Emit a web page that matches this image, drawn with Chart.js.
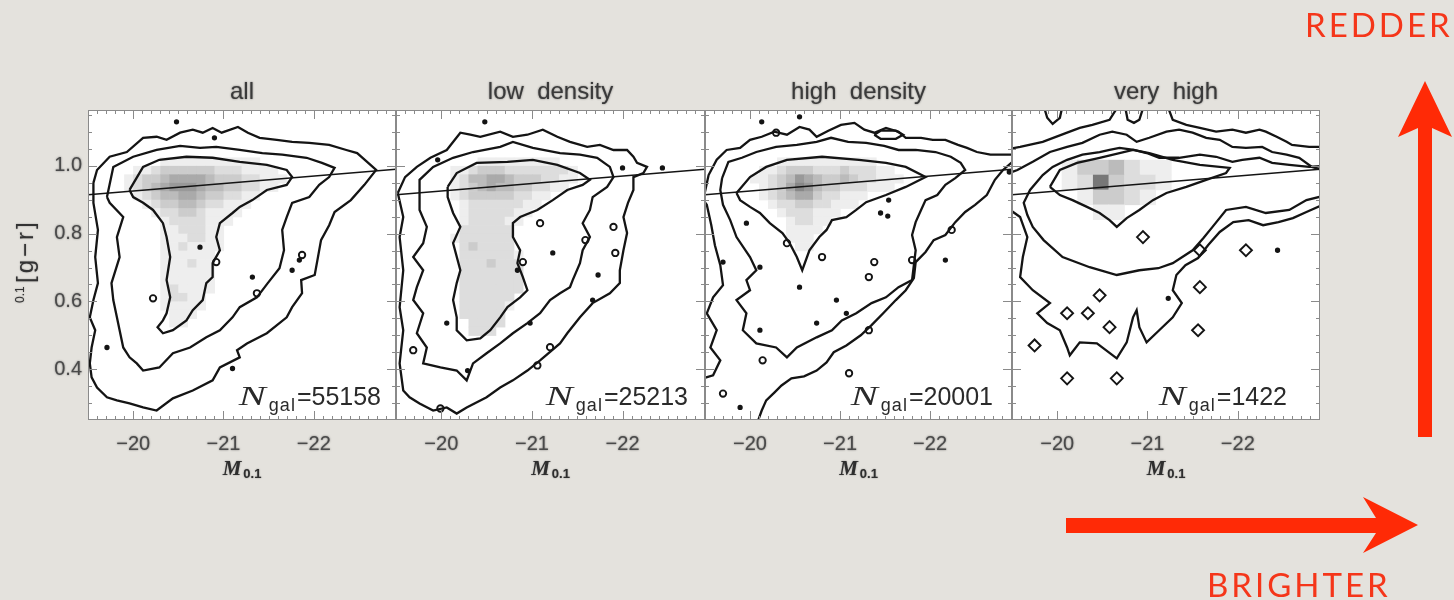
<!DOCTYPE html>
<html lang="en">
<head>
<meta charset="utf-8">
<title>Colour-magnitude diagrams by environment</title>
<script src="https://cdn.jsdelivr.net/npm/chart.js@4.4.1/dist/chart.umd.min.js"></script>
<style>
  html, body { margin: 0; padding: 0; }
  body { width: 1454px; height: 600px; position: relative; overflow: hidden; background: #e4e2dd; }
  canvas { position: absolute; left: 0; top: 0; }
</style>
</head>
<body>
<canvas id="panel0" width="1454" height="600"></canvas>
<canvas id="panel1" width="1454" height="600"></canvas>
<canvas id="panel2" width="1454" height="600"></canvas>
<canvas id="panel3" width="1454" height="600"></canvas>
<script>
// ---- values ----
const panelTitles = ['all', 'low  density', 'high  density', 'very  high'];
const galaxyCounts = ['55158', '25213', '20001', '1422'];
const magTicks = [-20, -21, -22];
const colourTicks = [0.4, 0.6, 0.8, 1.0];
const magRange = [-22.91, -19.5];
const colourRange = [0.25, 1.165];
const redSequence = [[-19.5, 0.915], [-22.91, 0.99]];

// density bins: left edge / top edge of first cell and cell size
const fineBins = { mag: -19.8, dMag: -0.1, colour: 1.025, dColour: 0.025 };
const coarseBins = { mag: -20.05, dMag: -0.173, colour: 1.018, dColour: 0.044 };

// ---- all ----
const allOuter = [[-19.56,0.950],[-19.60,0.988],[-19.74,1.027],[-19.93,1.041],[-20.11,1.083],[-20.26,1.086],[-20.37,1.077],[-20.52,1.098],[-20.66,1.107],[-20.77,1.098],[-20.88,1.112],[-20.98,1.098],[-21.16,1.115],[-21.27,1.098],[-21.40,1.083],[-21.59,1.077],[-21.76,1.071],[-21.95,1.068],[-22.17,1.062],[-22.36,1.047],[-22.48,1.038],[-22.59,1.012],[-22.69,0.988],[-22.56,0.944],[-22.41,0.899],[-22.23,0.864],[-22.17,0.825],[-22.08,0.781],[-22.04,0.722],[-22.01,0.678],[-21.86,0.663],[-21.87,0.624],[-21.76,0.583],[-21.70,0.553],[-21.48,0.506],[-21.26,0.476],[-21.15,0.456],[-21.18,0.435],[-20.96,0.405],[-20.88,0.367],[-20.66,0.337],[-20.44,0.314],[-20.26,0.278],[-20.11,0.287],[-19.96,0.299],[-19.82,0.308],[-19.71,0.317],[-19.60,0.346],[-19.54,0.376],[-19.52,0.417],[-19.54,0.464],[-19.58,0.515],[-19.52,0.553],[-19.56,0.604],[-19.61,0.654],[-19.58,0.731],[-19.61,0.811],[-19.56,0.891]];
const allMiddle = [[-19.71,0.908],[-19.78,0.997],[-20.00,1.027],[-20.26,1.047],[-20.52,1.059],[-20.74,1.053],[-20.92,1.056],[-21.18,1.047],[-21.43,1.038],[-21.65,1.033],[-21.92,1.024],[-22.09,1.009],[-22.23,0.994],[-22.17,0.967],[-22.06,0.944],[-21.95,0.908],[-21.76,0.891],[-21.70,0.849],[-21.65,0.811],[-21.67,0.751],[-21.62,0.698],[-21.49,0.654],[-21.37,0.612],[-21.18,0.583],[-21.10,0.553],[-20.96,0.515],[-20.81,0.494],[-20.63,0.464],[-20.44,0.447],[-20.29,0.405],[-20.11,0.396],[-20.04,0.417],[-19.96,0.435],[-19.89,0.464],[-19.85,0.515],[-19.82,0.553],[-19.78,0.604],[-19.76,0.654],[-19.85,0.731],[-19.82,0.790],[-19.89,0.849],[-19.74,0.891]];
const allInner = [[-19.96,0.929],[-20.11,0.997],[-20.29,1.018],[-20.59,1.027],[-20.88,1.024],[-21.18,1.012],[-21.48,1.003],[-21.70,0.988],[-21.76,0.967],[-21.70,0.944],[-21.48,0.929],[-21.32,0.899],[-21.18,0.879],[-21.10,0.861],[-20.96,0.831],[-20.92,0.790],[-20.96,0.751],[-20.88,0.713],[-20.88,0.672],[-20.81,0.654],[-20.77,0.604],[-20.66,0.574],[-20.59,0.544],[-20.44,0.515],[-20.33,0.506],[-20.27,0.524],[-20.33,0.544],[-20.37,0.565],[-20.41,0.612],[-20.37,0.663],[-20.41,0.731],[-20.37,0.790],[-20.33,0.831],[-20.22,0.870],[-20.11,0.891],[-20.00,0.908]];
const allLoops = [[-20.22,0.609],[-21.37,0.624],[-20.92,0.716],[-21.87,0.737]];
const allDots = [[-20.48,1.130],[-20.90,1.083],[-20.74,0.760],[-21.32,0.672],[-21.76,0.692],[-21.84,0.722],[-21.10,0.402],[-19.71,0.464]];
const allDensity = [
  '00000111111111110000',
  '00112333333222111100',
  '01233455554333221110',
  '01234566654433221100',
  '00123445543322110000',
  '00012334432211100000',
  '00001223321111000000',
  '00000122221110000000',
  '00000112221100000000',
  '00000111221100000000',
  '00000112111100000000',
  '00000111111000000000',
  '00000111211000000000',
  '00000111111000000000',
  '00000111111000000000',
  '00000121111000000000',
  '00000122110000000000',
  '00000111110000000000',
  '00000011100000000000',
  '00000011000000000000'
];

// ---- low density ----
const lowOuter = [[-19.52,0.920],[-19.60,0.967],[-19.73,0.997],[-19.88,1.024],[-20.06,1.047],[-20.21,1.098],[-20.32,1.092],[-20.43,1.086],[-20.65,1.101],[-20.79,1.086],[-20.95,1.092],[-21.12,1.107],[-21.28,1.086],[-21.42,1.071],[-21.61,1.056],[-21.75,1.062],[-21.90,1.047],[-22.05,1.047],[-22.12,1.027],[-22.16,1.009],[-22.27,0.997],[-22.23,0.979],[-22.12,0.967],[-22.12,0.929],[-22.06,0.891],[-22.01,0.849],[-22.05,0.802],[-22.01,0.751],[-21.97,0.692],[-21.97,0.654],[-21.86,0.624],[-21.67,0.595],[-21.53,0.553],[-21.39,0.506],[-21.31,0.476],[-21.09,0.426],[-20.95,0.396],[-20.79,0.367],[-20.65,0.346],[-20.50,0.317],[-20.28,0.287],[-20.17,0.269],[-20.06,0.287],[-19.91,0.278],[-19.76,0.299],[-19.65,0.317],[-19.58,0.337],[-19.54,0.417],[-19.58,0.515],[-19.54,0.583],[-19.58,0.692],[-19.54,0.790],[-19.58,0.849]];
const lowMiddle = [[-19.76,0.920],[-19.76,0.959],[-19.91,0.997],[-20.13,1.024],[-20.35,1.041],[-20.65,1.056],[-20.79,1.071],[-21.01,1.053],[-21.31,1.038],[-21.53,1.033],[-21.72,1.024],[-21.86,0.997],[-21.90,0.967],[-21.83,0.938],[-21.67,0.908],[-21.64,0.870],[-21.56,0.831],[-21.64,0.790],[-21.56,0.751],[-21.53,0.713],[-21.45,0.663],[-21.42,0.642],[-21.31,0.624],[-21.20,0.604],[-21.09,0.565],[-20.95,0.536],[-20.79,0.506],[-20.65,0.476],[-20.50,0.447],[-20.35,0.417],[-20.28,0.367],[-20.17,0.396],[-19.99,0.405],[-19.80,0.417],[-19.84,0.464],[-19.73,0.506],[-19.80,0.565],[-19.69,0.604],[-19.73,0.642],[-19.80,0.692],[-19.69,0.731],[-19.80,0.772],[-19.84,0.820],[-19.76,0.870]];
const lowInner = [[-20.07,0.938],[-20.17,0.979],[-20.39,1.009],[-20.73,1.012],[-21.01,1.018],[-21.28,1.003],[-21.53,0.979],[-21.64,0.959],[-21.56,0.944],[-21.39,0.929],[-21.23,0.899],[-21.06,0.870],[-20.87,0.849],[-20.79,0.831],[-20.79,0.790],[-20.87,0.751],[-20.84,0.713],[-20.90,0.672],[-20.95,0.633],[-20.87,0.612],[-20.73,0.583],[-20.65,0.553],[-20.54,0.515],[-20.43,0.491],[-20.28,0.485],[-20.17,0.515],[-20.17,0.553],[-20.13,0.604],[-20.17,0.654],[-20.21,0.692],[-20.13,0.772],[-20.21,0.820],[-20.13,0.861],[-20.07,0.908]];
const lowLoops = [[-21.09,0.831],[-20.90,0.716],[-21.90,0.820],[-21.92,0.743],[-19.69,0.456],[-21.20,0.465],[-21.06,0.411],[-19.99,0.284],[-21.59,0.781]];
const lowDots = [[-20.48,1.130],[-19.96,1.018],[-22.00,0.994],[-22.44,0.994],[-21.23,0.743],[-20.84,0.692],[-20.06,0.536],[-20.29,0.396],[-20.98,0.536],[-21.67,0.604],[-21.73,0.678]];
const lowDensity = [
  '00000011111111100000',
  '00011233322222221000',
  '00012445543332211000',
  '00012345443322110000',
  '00012333332211000000',
  '00001222222110000000',
  '00001222221100000000',
  '00001222211000000000',
  '00002222220000000000',
  '00012222220000000000',
  '00002322220000000000',
  '00002222221000000000',
  '00002223222000000000',
  '00002222222000000000',
  '00002222222000000000',
  '00002222222000000000',
  '00002222220000000000',
  '00002222210000000000',
  '00002222200000000000',
  '00000222200000000000',
  '00000222000000000000'
];

// ---- high density ----
const highOuter = [[-19.48,0.899],[-19.54,0.973],[-19.63,1.018],[-19.74,1.047],[-19.89,1.053],[-20.00,1.077],[-20.13,1.086],[-20.27,1.101],[-20.41,1.092],[-20.55,1.115],[-20.66,1.107],[-20.74,1.086],[-20.87,1.104],[-21.01,1.121],[-21.16,1.127],[-21.27,1.107],[-21.38,1.098],[-21.51,1.112],[-21.65,1.101],[-21.73,1.083],[-21.90,1.083],[-22.03,1.077],[-22.17,1.077],[-22.31,1.062],[-22.41,1.053],[-22.52,1.041],[-22.67,1.033],[-22.78,1.033],[-22.94,1.033],[-22.94,1.018],[-22.81,0.988],[-22.72,0.959],[-22.63,0.914],[-22.50,0.885],[-22.39,0.864],[-22.28,0.834],[-22.17,0.796],[-22.04,0.781],[-21.95,0.746],[-21.84,0.716],[-21.82,0.669],[-21.73,0.633],[-21.62,0.604],[-21.49,0.568],[-21.35,0.530],[-21.23,0.500],[-21.07,0.470],[-20.93,0.450],[-20.85,0.420],[-20.74,0.396],[-20.60,0.379],[-20.46,0.373],[-20.35,0.352],[-20.27,0.331],[-20.18,0.308],[-20.13,0.278],[-20.05,0.219],[-19.41,0.219],[-19.41,0.367],[-19.59,0.382],[-19.67,0.426],[-19.56,0.464],[-19.63,0.515],[-19.52,0.565],[-19.59,0.612],[-19.70,0.648],[-19.67,0.707],[-19.61,0.766],[-19.57,0.825],[-19.52,0.885]];
const highMiddle = [[-19.69,0.964],[-19.76,1.012],[-19.91,1.024],[-20.07,1.041],[-20.29,1.056],[-20.52,1.062],[-20.74,1.071],[-20.90,1.083],[-21.09,1.071],[-21.29,1.068],[-21.49,1.059],[-21.65,1.047],[-21.84,1.047],[-22.06,1.041],[-22.23,1.027],[-22.34,1.009],[-22.39,0.988],[-22.28,0.964],[-22.17,0.944],[-22.08,0.914],[-21.95,0.899],[-21.90,0.870],[-21.84,0.834],[-21.80,0.796],[-21.84,0.751],[-21.82,0.707],[-21.80,0.663],[-21.65,0.642],[-21.51,0.612],[-21.35,0.595],[-21.18,0.565],[-21.02,0.544],[-20.91,0.515],[-20.74,0.494],[-20.52,0.464],[-20.41,0.435],[-20.29,0.464],[-20.07,0.476],[-19.92,0.515],[-19.96,0.565],[-19.85,0.604],[-20.00,0.633],[-19.96,0.663],[-20.07,0.692],[-20.00,0.731],[-19.85,0.790],[-19.78,0.840],[-19.70,0.885],[-19.67,0.929]];
const highInner = [[-19.85,0.920],[-20.00,0.967],[-20.18,0.997],[-20.41,1.018],[-20.80,1.027],[-21.21,1.018],[-21.51,1.009],[-21.73,0.997],[-21.95,0.967],[-21.73,0.938],[-21.51,0.914],[-21.29,0.893],[-21.18,0.870],[-21.07,0.849],[-20.91,0.840],[-20.85,0.811],[-20.77,0.790],[-20.66,0.751],[-20.58,0.692],[-20.52,0.731],[-20.44,0.772],[-20.36,0.802],[-20.22,0.831],[-20.11,0.861],[-20.00,0.879],[-19.89,0.899]];
const highOval = [[-21.38,1.092],[-21.45,1.104],[-21.62,1.104],[-21.70,1.092],[-21.62,1.080],[-21.45,1.080]];
const highLoops = [[-20.29,1.098],[-22.24,0.811],[-20.41,0.772],[-20.80,0.731],[-21.38,0.716],[-21.32,0.672],[-21.80,0.722],[-19.70,0.328],[-21.32,0.515],[-21.10,0.388],[-20.14,0.426]];
const highDots = [[-20.13,1.130],[-20.55,1.145],[-22.17,0.722],[-21.54,0.899],[-21.45,0.861],[-21.53,0.852],[-19.96,0.831],[-19.70,0.716],[-20.11,0.701],[-20.96,0.604],[-20.74,0.536],[-20.11,0.515],[-19.89,0.287],[-21.07,0.565],[-20.55,0.642],[-22.88,0.982]];
const highDensity = [
  '00000111111111110000',
  '00011233322232221100',
  '00112346543343221110',
  '00012357643322211100',
  '00012345532211100000',
  '00001223322111000000',
  '00000122211100000000',
  '00000012211000000000',
  '00000011110000000000',
  '00000011100000000000',
  '00000001100000000000'
];

// ---- very high ----
const vhTop = [[-19.41,1.047],[-19.59,1.056],[-19.84,1.071],[-20.11,1.098],[-20.25,1.112],[-20.39,1.121],[-20.58,1.136],[-20.68,1.178],[-20.75,1.178],[-20.78,1.136],[-20.85,1.127],[-20.91,1.136],[-20.96,1.178],[-21.22,1.178],[-21.28,1.136],[-21.43,1.121],[-21.58,1.112],[-21.76,1.101],[-21.94,1.107],[-22.09,1.098],[-22.24,1.107],[-22.31,1.101],[-22.43,1.086],[-22.54,1.071],[-22.60,1.062],[-22.79,1.056],[-22.94,1.056]];
const vhNotch = [[-19.85,1.178],[-19.89,1.142],[-19.95,1.124],[-20.03,1.142],[-20.06,1.178]];
const vhSecond = [[-19.41,0.973],[-19.56,0.988],[-19.73,1.012],[-19.92,1.041],[-20.11,1.056],[-20.28,1.068],[-20.47,1.092],[-20.61,1.101],[-20.77,1.092],[-20.88,1.071],[-21.02,1.083],[-21.21,1.101],[-21.35,1.107],[-21.50,1.098],[-21.65,1.083],[-21.80,1.077],[-21.94,1.056],[-22.09,1.053],[-22.27,1.056],[-22.38,1.041],[-22.54,1.033],[-22.68,1.024],[-22.82,0.997],[-22.94,0.988]];
const vhBand = [[-22.94,1.000],[-22.79,0.997],[-22.57,1.003],[-22.38,1.009],[-22.24,1.024],[-22.05,1.018],[-21.94,1.012],[-21.76,1.027],[-21.58,1.033],[-21.35,1.024],[-21.13,1.024],[-20.99,1.038],[-20.85,1.047],[-20.69,1.053],[-20.58,1.047],[-20.47,1.041],[-20.28,1.033],[-20.11,1.018],[-19.95,0.997],[-19.84,0.973],[-19.70,0.929],[-19.63,0.891],[-19.67,0.855],[-19.73,0.820],[-19.85,0.781],[-20.06,0.731],[-20.36,0.701],[-20.66,0.678],[-20.91,0.692],[-21.12,0.698],[-21.28,0.713],[-21.50,0.751],[-21.62,0.787],[-21.72,0.820],[-21.87,0.870],[-22.09,0.879],[-22.31,0.861],[-22.57,0.870],[-22.76,0.899],[-22.94,0.911]];
const vhInner = [[-19.92,0.938],[-20.03,0.988],[-20.22,1.009],[-20.47,1.024],[-20.84,1.047],[-21.02,1.038],[-21.28,1.018],[-21.58,1.003],[-21.91,0.994],[-21.87,0.979],[-21.65,0.959],[-21.43,0.938],[-21.21,0.920],[-21.06,0.899],[-20.91,0.870],[-20.77,0.846],[-20.66,0.820],[-20.58,0.840],[-20.47,0.861],[-20.33,0.879],[-20.17,0.899],[-20.03,0.914]];
const vhLower = [[-19.48,0.870],[-19.59,0.849],[-19.67,0.790],[-19.62,0.731],[-19.59,0.672],[-19.73,0.633],[-19.92,0.595],[-19.78,0.565],[-19.89,0.536],[-20.03,0.515],[-20.11,0.464],[-20.14,0.441],[-20.25,0.479],[-20.44,0.476],[-20.66,0.432],[-20.77,0.479],[-20.84,0.553],[-20.88,0.574],[-20.91,0.524],[-20.99,0.479],[-21.13,0.515],[-21.28,0.553],[-21.38,0.595],[-21.28,0.633],[-21.32,0.678],[-21.42,0.707],[-21.56,0.728],[-21.67,0.766],[-21.80,0.805],[-21.95,0.834],[-22.12,0.840],[-22.28,0.825],[-22.45,0.834],[-22.61,0.846],[-22.76,0.864],[-22.94,0.885]];
const vhDiamonds = [[-20.95,0.790],[-21.58,0.751],[-22.09,0.751],[-19.75,0.470],[-20.11,0.565],[-20.34,0.565],[-20.47,0.618],[-20.58,0.524],[-21.56,0.515],[-20.11,0.373],[-20.66,0.373],[-21.58,0.642]];
const vhDots = [[-22.44,0.751],[-21.23,0.609]];
const vhDensity = ['1334211', '1283221', '0133210', '0011000'];

// ---- layout (pixels) ----
const panelEdges = [[88, 396], [396, 705], [705, 1012], [1012, 1320]];
const countInset = [15, 17, 19, 33];
const INK = '#141414';
const LABEL = '#4a4a4a';
const SANS = '"Liberation Sans", Arial, sans-serif';
const SERIF = '"Liberation Serif", "Times New Roman", serif';

const panels = [
  { closed: [allOuter, allMiddle, allInner], open: [], loops: allLoops, diamonds: [], dots: allDots, density: allDensity, bins: fineBins },
  { closed: [lowOuter, lowMiddle, lowInner], open: [], loops: lowLoops, diamonds: [], dots: lowDots, density: lowDensity, bins: fineBins },
  { closed: [highOuter, highMiddle, highInner, highOval], open: [], loops: highLoops, diamonds: [], dots: highDots, density: highDensity, bins: fineBins },
  { closed: [vhInner], open: [vhTop, vhNotch, vhSecond, vhBand, vhLower], loops: [], diamonds: vhDiamonds, dots: vhDots, density: vhDensity, bins: coarseBins }
];

const toXY = list => list.map(([x, y]) => ({ x, y }));

function lineSet(list, closed, width) {
  const data = toXY(list);
  if (closed) data.push(data[0]);
  return { data, showLine: true, borderColor: INK, borderWidth: width, pointRadius: 0, tension: 0, clip: 0 };
}

function markerSet(list, style, radius, fill) {
  return {
    data: toXY(list), showLine: false, pointStyle: style, pointRadius: radius,
    pointBackgroundColor: fill, pointBorderColor: INK, pointBorderWidth: 1.9, clip: 0
  };
}

function drawDensity(chart, rows, bins) {
  const { ctx, chartArea: a, scales: { x, y } } = chart;
  ctx.save();
  ctx.beginPath();
  ctx.rect(a.left, a.top, a.width, a.height);
  ctx.clip();
  rows.forEach((row, r) => {
    [...row].forEach((ch, c) => {
      const level = Number(ch);
      if (!level) return;
      const xa = x.getPixelForValue(bins.mag + c * bins.dMag);
      const xb = x.getPixelForValue(bins.mag + (c + 1) * bins.dMag);
      const ya = y.getPixelForValue(bins.colour - r * bins.dColour);
      const yb = y.getPixelForValue(bins.colour - (r + 1) * bins.dColour);
      const g = 255 - level * 17;
      ctx.fillStyle = `rgb(${g},${g},${g})`;
      ctx.fillRect(Math.min(xa, xb), Math.min(ya, yb), Math.abs(xb - xa) + 0.6, Math.abs(yb - ya) + 0.6);
    });
  });
  ctx.restore();
}

// box and inward ticks on all four sides
function drawFrame(chart) {
  const { ctx, chartArea: a, scales: { x, y } } = chart;
  ctx.save();
  ctx.strokeStyle = '#8a8a8a';
  ctx.lineWidth = 1;
  ctx.strokeRect(a.left + 0.5, a.top + 0.5, a.width - 1, a.height - 1);
  ctx.beginPath();
  for (let k = 196; k <= 229; k++) {
    const px = Math.round(x.getPixelForValue(-k / 10)) + 0.5;
    const len = k % 10 === 0 ? 9 : 4;
    ctx.moveTo(px, a.bottom); ctx.lineTo(px, a.bottom - len);
    ctx.moveTo(px, a.top); ctx.lineTo(px, a.top + len);
  }
  for (let k = 6; k <= 23; k++) {
    const py = Math.round(y.getPixelForValue(k * 0.05)) + 0.5;
    const len = k % 4 === 0 ? 9 : 4;
    ctx.moveTo(a.left, py); ctx.lineTo(a.left + len, py);
    ctx.moveTo(a.right, py); ctx.lineTo(a.right - len, py);
  }
  ctx.stroke();
  ctx.restore();
}

function drawCount(chart, count, inset) {
  const { ctx, chartArea: a } = chart;
  const base = a.bottom - 15;
  const nFont = 'italic 27px ' + SERIF;
  const subFont = '18px ' + SANS;
  const numFont = '25px ' + SANS;
  ctx.save();
  ctx.fillStyle = '#2a2a2a';
  ctx.font = numFont; const wNum = ctx.measureText('=' + count).width;
  ctx.font = subFont; const wSub = ctx.measureText('gal').width + 4;
  ctx.font = nFont; const wN = ctx.measureText('N').width * 1.5 + 3;
  let xPos = a.right - inset - wNum - wSub - wN;
  ctx.save();
  ctx.translate(xPos, base);
  ctx.scale(1.5, 1);
  ctx.fillText('N', 0, 0);
  ctx.restore();
  xPos += wN;
  ctx.font = subFont;
  ctx.letterSpacing = '1px';
  ctx.fillText('gal', xPos, base + 6);
  ctx.letterSpacing = '0px';
  xPos += wSub;
  ctx.font = numFont;
  ctx.fillText('=' + count, xPos, base);
  ctx.restore();
}

function drawMagTitle(chart) {
  const { ctx, chartArea: a } = chart;
  const cx = (a.left + a.right) / 2;
  const mFont = 'italic bold 21px ' + SERIF;
  const sFont = 'bold 13px ' + SANS;
  ctx.save();
  ctx.fillStyle = '#2e2e2e';
  ctx.shadowColor = 'rgba(0,0,0,0.45)';
  ctx.shadowBlur = 1.5;
  ctx.font = mFont; const wM = ctx.measureText('M').width;
  ctx.font = sFont; const wS = ctx.measureText('0.1').width;
  const x0 = cx - (wM + wS + 2) / 2;
  ctx.font = mFont; ctx.fillText('M', x0, a.bottom + 55);
  ctx.font = sFont; ctx.fillText('0.1', x0 + wM + 2, a.bottom + 58);
  ctx.restore();
}

function drawColourTitle(chart) {
  const ctx = chart.ctx;
  ctx.save();
  ctx.fillStyle = '#333';
  ctx.shadowColor = 'rgba(0,0,0,0.45)';
  ctx.shadowBlur = 1.5;
  ctx.translate(33, 262);
  ctx.rotate(-Math.PI / 2);
  ctx.font = '12px ' + SANS;
  ctx.fillText('0.1', -41, -9);
  ctx.font = '24px ' + SANS;
  ctx.letterSpacing = '3px';
  ctx.fillText('[g\u2212r]', -21, 0);
  ctx.restore();
}

// red direction arrows and captions beside the panels
const slideArrows = {
  id: 'slideArrows',
  afterDraw(chart) {
    const ctx = chart.ctx;
    ctx.save();
    ctx.fillStyle = '#ff2a06';
    ctx.fillRect(1418, 126, 14, 311);
    ctx.beginPath();
    ctx.moveTo(1425, 81);
    ctx.lineTo(1452, 137);
    ctx.lineTo(1432, 128);
    ctx.lineTo(1418, 128);
    ctx.lineTo(1398, 137);
    ctx.closePath();
    ctx.fill();
    ctx.fillRect(1066, 518, 312, 15);
    ctx.beginPath();
    ctx.moveTo(1418, 525);
    ctx.lineTo(1363, 553);
    ctx.lineTo(1376, 533);
    ctx.lineTo(1376, 518);
    ctx.lineTo(1363, 497);
    ctx.closePath();
    ctx.fill();
    ctx.fillStyle = '#f5361a';
    ctx.font = '33px Lato, "Open Sans", sans-serif';
    ctx.letterSpacing = '3px';
    ctx.fillText('REDDER', 1305, 37);
    ctx.fillText('BRIGHTER', 1207, 597);
    ctx.restore();
  }
};

function panelDecor(p, i) {
  return {
    id: 'panelDecor' + i,
    beforeDraw(chart) {
      const { ctx, chartArea: a } = chart;
      ctx.fillStyle = '#ffffff';
      ctx.fillRect(a.left, a.top, a.width, a.height);
      // soft halo behind axis and title lettering
      ctx.shadowColor = 'rgba(0,0,0,0.5)';
      ctx.shadowBlur = 2;
    },
    beforeDatasetsDraw(chart) {
      chart.ctx.shadowColor = 'transparent';
      chart.ctx.shadowBlur = 0;
      drawDensity(chart, p.density, p.bins);
    },
    afterDatasetsDraw(chart) {
      drawFrame(chart);
      drawCount(chart, galaxyCounts[i], countInset[i]);
      drawMagTitle(chart);
      if (i === 0) drawColourTitle(chart);
    }
  };
}

panels.forEach((p, i) => {
  const [left, right] = panelEdges[i];
  const yWidth = i === 0 ? 60 : 0;
  const datasets = [
    ...p.closed.map(c => lineSet(c, true, 2.3)),
    ...p.open.map(c => lineSet(c, false, 2.3)),
    markerSet(p.loops, 'circle', 3.2, '#ffffff'),
    markerSet(p.diamonds, 'rectRot', 6, '#ffffff'),
    markerSet(p.dots, 'circle', 1.7, INK),
    lineSet(redSequence, false, 1.6)
  ];
  const pluginList = [panelDecor(p, i)];
  if (i === 3) pluginList.push(slideArrows);

  new Chart(document.getElementById('panel' + i), {
    type: 'scatter',
    data: { datasets },
    options: {
      responsive: false,
      animation: false,
      events: [],
      layout: { padding: { left: left - yWidth, right: 1454 - right, top: 80, bottom: 140 } },
      plugins: {
        legend: { display: false },
        tooltip: { enabled: false },
        title: {
          display: true,
          text: panelTitles[i],
          fullSize: false,
          color: '#3a3a3a',
          font: { family: SANS, size: 24, weight: 'normal', lineHeight: 1 },
          padding: { top: 0, bottom: 6 }
        }
      },
      scales: {
        x: {
          type: 'linear',
          reverse: true,
          min: magRange[0],
          max: magRange[1],
          afterBuildTicks: s => { s.ticks = magTicks.map(v => ({ value: v })); },
          afterFit: s => { s.height = 40; },
          grid: { display: false, drawTicks: false },
          border: { display: false },
          ticks: {
            color: LABEL,
            padding: 12,
            font: { family: SANS, size: 20 },
            maxRotation: 0,
            callback: v => '\u2212' + Math.abs(v)
          }
        },
        y: {
          type: 'linear',
          display: i === 0,
          min: colourRange[0],
          max: colourRange[1],
          afterBuildTicks: s => { s.ticks = colourTicks.map(v => ({ value: v })); },
          afterFit: s => { s.width = yWidth; },
          grid: { display: false, drawTicks: false },
          border: { display: false },
          ticks: {
            color: LABEL,
            padding: 6,
            font: { family: SANS, size: 20 },
            callback: v => v.toFixed(1)
          }
        }
      }
    },
    plugins: pluginList
  });
});
</script>
</body>
</html>
